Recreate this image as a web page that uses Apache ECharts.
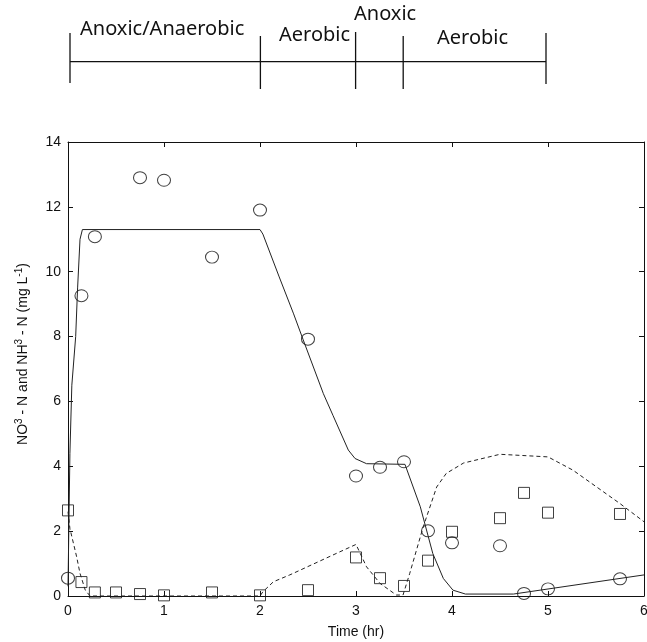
<!DOCTYPE html>
<html>
<head>
<meta charset="utf-8">
<script src="https://cdn.jsdelivr.net/npm/echarts@6/dist/echarts.min.js"></script>
<style>html,body{margin:0;padding:0;background:#fff;}#c{width:647px;height:642px;}</style>
</head>
<body>
<div id="c"></div>
<script>
// Observed data (hours, mg/L)
const circleX = [0, 0.14, 0.28, 0.75, 1.0, 1.5, 2.0, 2.5, 3.0, 3.25, 3.5, 3.75, 4.0, 4.5, 4.75, 5.0, 5.75];
const circleY = [0.55, 9.26, 11.08, 12.9, 12.82, 10.45, 11.9, 7.92, 3.7, 3.97, 4.14, 2.01, 1.64, 1.55, 0.08, 0.22, 0.53];
const squareX = [0, 0.14, 0.28, 0.5, 0.75, 1.0, 1.5, 2.0, 2.5, 3.0, 3.25, 3.5, 3.75, 4.0, 4.5, 4.75, 5.0, 5.75];
const squareY = [2.64, 0.43, 0.11, 0.11, 0.06, 0.02, 0.11, 0.02, 0.18, 1.19, 0.55, 0.31, 1.09, 1.98, 2.4, 3.18, 2.57, 2.53];
// Model curves
const solidX = [0, 0.02, 0.04, 0.08, 0.1, 0.125, 0.15, 2.0, 2.03, 2.2, 2.35, 2.45, 2.66, 2.76, 2.92, 2.99, 3.11, 3.51, 3.67, 3.8, 3.91, 4.01, 4.14, 4.64, 6.0];
const solidY = [0.3, 4.4, 6.5, 8.0, 9.5, 11.0, 11.3, 11.3, 11.16, 9.84, 8.7, 7.9, 6.24, 5.57, 4.5, 4.24, 4.08, 4.06, 2.75, 1.31, 0.54, 0.18, 0.06, 0.06, 0.65];
const dashedX = [0, 0.02, 0.09, 0.125, 0.18, 0.23, 2.0, 2.03, 2.14, 2.31, 2.42, 2.83, 3.0, 3.11, 3.25, 3.42, 3.49, 3.56, 3.7, 3.84, 3.94, 4.12, 4.5, 5.0, 5.26, 5.75, 6.0];
const dashedY = [2.6, 2.08, 1.21, 0.7, 0.18, 0.0, 0.0, 0.13, 0.44, 0.65, 0.8, 1.36, 1.59, 0.9, 0.39, 0.03, 0.03, 0.7, 2.13, 3.36, 3.78, 4.1, 4.37, 4.29, 3.88, 2.85, 2.29];
// Phase timeline
const phaseBounds = [0, 2, 3, 3.5, 5];
const phaseNames = ['Anoxic/Anaerobic', 'Aerobic', 'Anoxic', 'Aerobic'];
const xTicks = [0, 1, 2, 3, 4, 5, 6];
const yTicks = [0, 2, 4, 6, 8, 10, 12, 14];

const zip = (a, b) => a.map((v, i) => [v, b[i]]);
const chart = echarts.init(document.getElementById('c'), null, {renderer: 'canvas'});

const lineCol = '#111';
const tickFont = {fontFamily: 'Liberation Sans, Arial, sans-serif', fontSize: 14, color: '#111'};

const bracketSeries = [];
bracketSeries.push({
  type: 'line', xAxisIndex: 2, yAxisIndex: 2, symbol: 'none', silent: true,
  lineStyle: {color: lineCol, width: 1.3},
  data: [[phaseBounds[0], 61.7], [phaseBounds[phaseBounds.length - 1], 61.7]]
});
const tickSpans = [[33, 83], [36, 89], [32, 89], [36, 89], [33, 84]];
phaseBounds.forEach((b, i) => {
  bracketSeries.push({
    type: 'line', xAxisIndex: 2, yAxisIndex: 2, symbol: 'none', silent: true,
    lineStyle: {color: lineCol, width: 1.3},
    data: [[b, tickSpans[i][0]], [b, tickSpans[i][1]]]
  });
});

const axLine = {show: true, onZero: false, lineStyle: {color: lineCol, width: 1}};
const axTick = {show: true, inside: true, length: 5, lineStyle: {color: lineCol}};

const option = {
  animation: false,
  backgroundColor: '#fff',
  grid: [
    {left: 68, right: 3, top: 142, bottom: 46, containLabel: false, outerBoundsMode: 'none'},
    {left: 70, right: 101, top: 0, height: 100, outerBoundsMode: 'none'}
  ],
  xAxis: [
    {type: 'value', gridIndex: 0, min: 0, max: 6, interval: 1, position: 'bottom',
     name: 'Time (hr)', nameLocation: 'middle', nameGap: 29,
     nameTextStyle: Object.assign({}, tickFont, {fontSize: 14}),
     axisLine: axLine, axisTick: axTick,
     axisLabel: Object.assign({margin: 8, formatter: v => xTicks.includes(v) ? String(v) : ''}, tickFont),
     splitLine: {show: false}},
    {type: 'value', gridIndex: 0, min: 0, max: 6, interval: 1, position: 'top',
     axisLine: axLine, axisTick: axTick,
     axisLabel: {show: false}, splitLine: {show: false}},
    {type: 'value', gridIndex: 1, min: 0, max: 5, show: false}
  ],
  yAxis: [
    {type: 'value', gridIndex: 0, min: 0, max: 14, interval: 2, position: 'left',
     axisLine: axLine, axisTick: axTick,
     axisLabel: Object.assign({margin: 7, formatter: v => yTicks.includes(v) ? String(v) : ''}, tickFont),
     splitLine: {show: false}},
    {type: 'value', gridIndex: 0, min: 0, max: 14, interval: 2, position: 'right',
     axisLine: axLine, axisTick: axTick,
     axisLabel: {show: false}, splitLine: {show: false}},
    {type: 'value', gridIndex: 1, min: 0, max: 100, inverse: true, show: false}
  ],
  series: [
    {type: 'line', xAxisIndex: 0, yAxisIndex: 0, data: zip(solidX, solidY), symbol: 'none',
     lineStyle: {color: '#222', width: 1}, silent: true},
    {type: 'line', xAxisIndex: 0, yAxisIndex: 0, data: zip(dashedX, dashedY), symbol: 'none',
     lineStyle: {color: '#222', width: 1, type: [4, 3]}, silent: true},
    {type: 'scatter', xAxisIndex: 0, yAxisIndex: 0, data: zip(circleX, circleY), symbol: 'circle',
     symbolSize: [13, 12], clip: false,
     itemStyle: {color: 'rgba(255,255,255,0)', borderColor: '#111', borderWidth: 1}},
    {type: 'scatter', xAxisIndex: 0, yAxisIndex: 0, data: zip(squareX, squareY), symbol: 'rect',
     symbolSize: 11, clip: false,
     itemStyle: {color: 'rgba(255,255,255,0)', borderColor: '#111', borderWidth: 1}}
  ].concat(bracketSeries),
  graphic: [
    {type: 'text', left: 80, top: 19, style: {text: phaseNames[0], font: '20px "Noto Sans", sans-serif', fill: '#111'}},
    {type: 'text', left: 279, top: 25, style: {text: phaseNames[1], font: '20px "Noto Sans", sans-serif', fill: '#111'}},
    {type: 'text', left: 354, top: 4, style: {text: phaseNames[2], font: '20px "Noto Sans", sans-serif', fill: '#111'}},
    {type: 'text', left: 437, top: 28, style: {text: phaseNames[3], font: '20px "Noto Sans", sans-serif', fill: '#111'}},
    {type: 'text', x: 23, y: 354, rotation: Math.PI / 2,
     style: {
       text: '{n|NO}{s|3}{n| - N and NH}{s|3}{n| - N (mg L}{s|-1}{n|)}',
       align: 'center', verticalAlign: 'middle',
       rich: {
         n: {fontFamily: 'Liberation Sans, Arial, sans-serif', fontSize: 14, fill: '#111', color: '#111'},
         s: {fontFamily: 'Liberation Sans, Arial, sans-serif', fontSize: 10, fill: '#111', color: '#111', verticalAlign: 'top', padding: [0, 0, 8, 0]}
       }
     }}
  ]
};
chart.setOption(option);
</script>
</body>
</html>
